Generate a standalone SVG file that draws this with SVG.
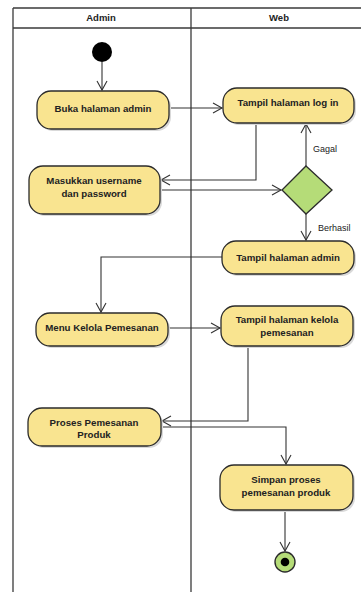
<svg xmlns="http://www.w3.org/2000/svg" width="361" height="592" viewBox="0 0 361 592">
<defs>
<style>
.lane{fill:none;stroke:#3a3a3a;stroke-width:1.3}
.act{fill:#f9e490;stroke:#2b2b2b;stroke-width:1.3}
.sh{fill:#d9d9d9;stroke:none}
.t{font-family:"Liberation Sans",Arial,sans-serif;font-size:9.7px;font-weight:bold;fill:#222;text-anchor:middle}
.h{font-family:"Liberation Sans",Arial,sans-serif;font-size:9.5px;font-weight:bold;fill:#222;text-anchor:middle}
.lbl{font-family:"Liberation Sans",Arial,sans-serif;font-size:9px;fill:#222}
.c{fill:none;stroke:#333;stroke-width:1.1;marker-end:url(#arr)}
</style>
<marker id="arr" markerWidth="12" markerHeight="12" refX="10" refY="6" orient="auto" markerUnits="userSpaceOnUse">
<path d="M1,1 L10,6 L1,11" fill="none" stroke="#333" stroke-width="1.1"/>
</marker>
</defs>
<rect width="361" height="592" fill="#fff"/>
<g id="swimlanes">
<line class="lane" x1="13" y1="8" x2="361" y2="8"/>
<line class="lane" x1="13" y1="28" x2="361" y2="28"/>
<line class="lane" x1="13" y1="8" x2="13" y2="592"/>
<line class="lane" x1="191" y1="8" x2="191" y2="592"/>
<text class="h" x="101" y="21">Admin</text>
<text class="h" x="279" y="21">Web</text>
</g>
<g id="connectors">
<line class="c" x1="102" y1="62" x2="102" y2="90"/>
<line class="c" x1="169" y1="108" x2="222" y2="108"/>
<polyline class="c" points="256,123 256,180 161,180"/>
<line class="c" x1="160" y1="190" x2="281" y2="190"/>
<line class="c" x1="306" y1="166" x2="306" y2="124"/>
<line class="c" x1="306" y1="213" x2="306" y2="240"/>
<polyline class="c" points="222,257 101,257 101,312"/>
<line class="c" x1="168" y1="328" x2="220" y2="328"/>
<polyline class="c" points="248,346 248,421 162,421"/>
<polyline class="c" points="161,427 286,427 286,464"/>
<line class="c" x1="285" y1="510" x2="285" y2="551"/>
<text class="lbl" x="313" y="152">Gagal</text>
<text class="lbl" x="318" y="231">Berhasil</text>
</g>
<g id="start">
<circle cx="102" cy="52" r="10" fill="#000"/>
</g>
<g id="buka">
<rect class="sh" x="39" y="93" width="132" height="38" rx="14"/>
<rect class="act" x="37" y="91" width="132" height="38" rx="14"/>
<text class="t" x="103" y="112">Buka halaman admin</text>
</g>
<g id="login">
<rect class="sh" x="225" y="90" width="131" height="35" rx="14"/>
<rect class="act" x="223" y="88" width="131" height="35" rx="14"/>
<text class="t" x="288" y="106">Tampil halaman log in</text>
</g>
<g id="masukkan">
<rect class="sh" x="31" y="168" width="131" height="48" rx="14"/>
<rect class="act" x="29" y="166" width="131" height="48" rx="14"/>
<text class="t" x="94" y="184">Masukkan username</text>
<text class="t" x="94" y="197">dan password</text>
</g>
<g id="decision">
<polygon points="306,166 332,190 306,214 282,190" fill="#b5dc78" stroke="#2b2b2b" stroke-width="1.3"/>
</g>
<g id="tampiladmin">
<rect class="sh" x="224" y="243" width="132" height="33" rx="14"/>
<rect class="act" x="222" y="241" width="132" height="33" rx="14"/>
<text class="t" x="288" y="261">Tampil halaman admin</text>
</g>
<g id="menukelola">
<rect class="sh" x="38" y="315" width="132" height="33" rx="14"/>
<rect class="act" x="36" y="313" width="132" height="33" rx="14"/>
<text class="t" x="102" y="331">Menu Kelola Pemesanan</text>
</g>
<g id="tampilkelola">
<rect class="sh" x="223" y="308" width="132" height="40" rx="14"/>
<rect class="act" x="221" y="306" width="132" height="40" rx="14"/>
<text class="t" x="287" y="323">Tampil halaman kelola</text>
<text class="t" x="287" y="336">pemesanan</text>
</g>
<g id="proses">
<rect class="sh" x="30" y="410" width="133" height="38" rx="14"/>
<rect class="act" x="28" y="408" width="133" height="38" rx="14"/>
<text class="t" x="94" y="426">Proses Pemesanan</text>
<text class="t" x="94" y="438">Produk</text>
</g>
<g id="simpan">
<rect class="sh" x="222" y="467" width="133" height="45" rx="14"/>
<rect class="act" x="220" y="465" width="133" height="45" rx="14"/>
<text class="t" x="286" y="483">Simpan proses</text>
<text class="t" x="286" y="496">pemesanan produk</text>
</g>
<g id="end">
<circle cx="285" cy="562" r="10" fill="#b5dc78" stroke="#2b2b2b" stroke-width="1.4"/>
<circle cx="285" cy="562" r="4.3" fill="#000"/>
</g>
</svg>
